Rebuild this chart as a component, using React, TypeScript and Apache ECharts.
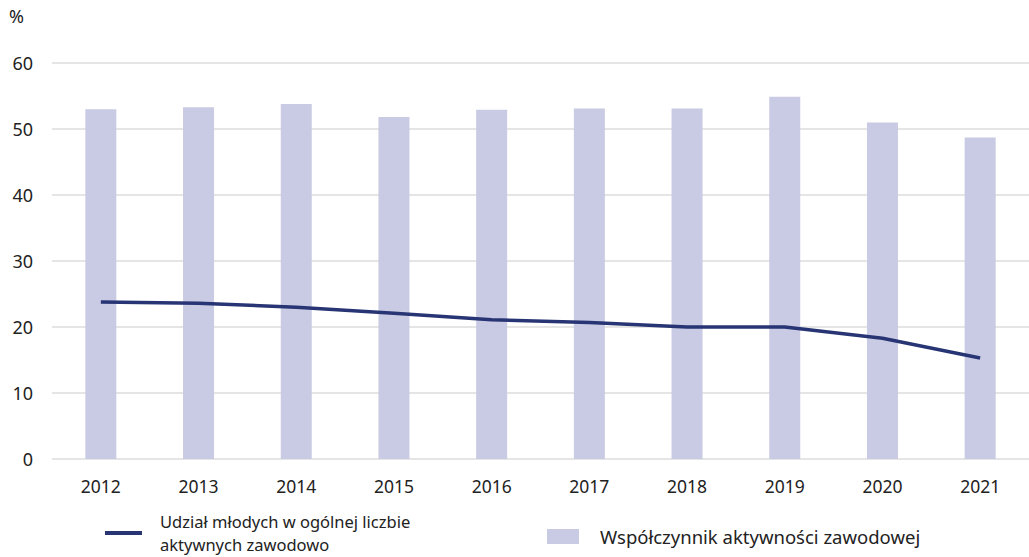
import React, { useEffect, useRef } from "react";
import * as echarts from "echarts";

const years = ["2012", "2013", "2014", "2015", "2016", "2017", "2018", "2019", "2020", "2021"];
const activityRate = [53.0, 53.3, 53.8, 51.8, 52.9, 53.1, 53.1, 54.9, 51.0, 48.7];
const youthShare = [23.8, 23.6, 23.0, 22.1, 21.1, 20.7, 20.0, 20.0, 18.3, 15.3];
const yTicks = { min: 0, max: 60, interval: 10 };
const lineName = "Udział młodych w ogólnej liczbie\naktywnych zawodowo";
const barName = "Współczynnik aktywności zawodowej";

const FONT = "'Noto Sans', 'Open Sans', sans-serif";

export default function App() {
  const ref = useRef<HTMLDivElement>(null);
  useEffect(() => {
    if (!ref.current) return;
    const chart = echarts.init(ref.current, undefined, { renderer: "svg" });
    chart.setOption({
      animation: false,
      backgroundColor: "#ffffff",
      textStyle: { fontFamily: FONT },
      grid: { left: 52, top: 63, width: 985, height: 396, containLabel: false },
      graphic: [
        {
          type: "text",
          left: 9,
          top: 7,
          style: { text: "%", fontSize: 18, fill: "#222", fontFamily: FONT },
        },
      ],
      legend: [
        {
          data: [lineName],
          left: 105,
          top: 510,
          padding: 0,
          icon: "rect",
          itemWidth: 37,
          itemHeight: 4,
          textStyle: { fontSize: 16.5, color: "#222", lineHeight: 23, fontFamily: FONT, padding: [0, 0, 0, 13] },
        },
        {
          data: [barName],
          left: 547,
          top: 527,
          padding: 0,
          icon: "rect",
          itemWidth: 32,
          itemHeight: 15,
          textStyle: { fontSize: 18.5, color: "#222", fontFamily: FONT, padding: [0, 0, 0, 16] },
        },
      ],
      xAxis: {
        type: "category",
        data: years,
        axisLine: { show: false },
        axisTick: { show: false },
        axisLabel: { fontSize: 17.5, color: "#222", margin: 18, fontFamily: FONT },
      },
      yAxis: {
        type: "value",
        min: yTicks.min,
        max: yTicks.max,
        interval: yTicks.interval,
        axisLine: { show: false },
        axisTick: { show: false },
        axisLabel: { fontSize: 18, color: "#222", margin: 19, fontFamily: FONT },
        splitLine: { lineStyle: { color: "#dcdcdc", width: 1.5 } },
      },
      series: [
        {
          name: barName,
          type: "bar",
          data: activityRate,
          barWidth: 31,
          itemStyle: { color: "#c9cae3" },
          z: 1,
        },
        {
          name: lineName,
          type: "line",
          data: youthShare,
          symbol: "none",
          lineStyle: { color: "#283574", width: 3.5 },
          itemStyle: { color: "#283574" },
          z: 3,
        },
      ],
    });
    return () => chart.dispose();
  }, []);
  return (
    <div
      ref={ref}
      style={{ position: "fixed", left: 0, top: 0, width: 1029, height: 557, background: "#fff" }}
    />
  );
}
